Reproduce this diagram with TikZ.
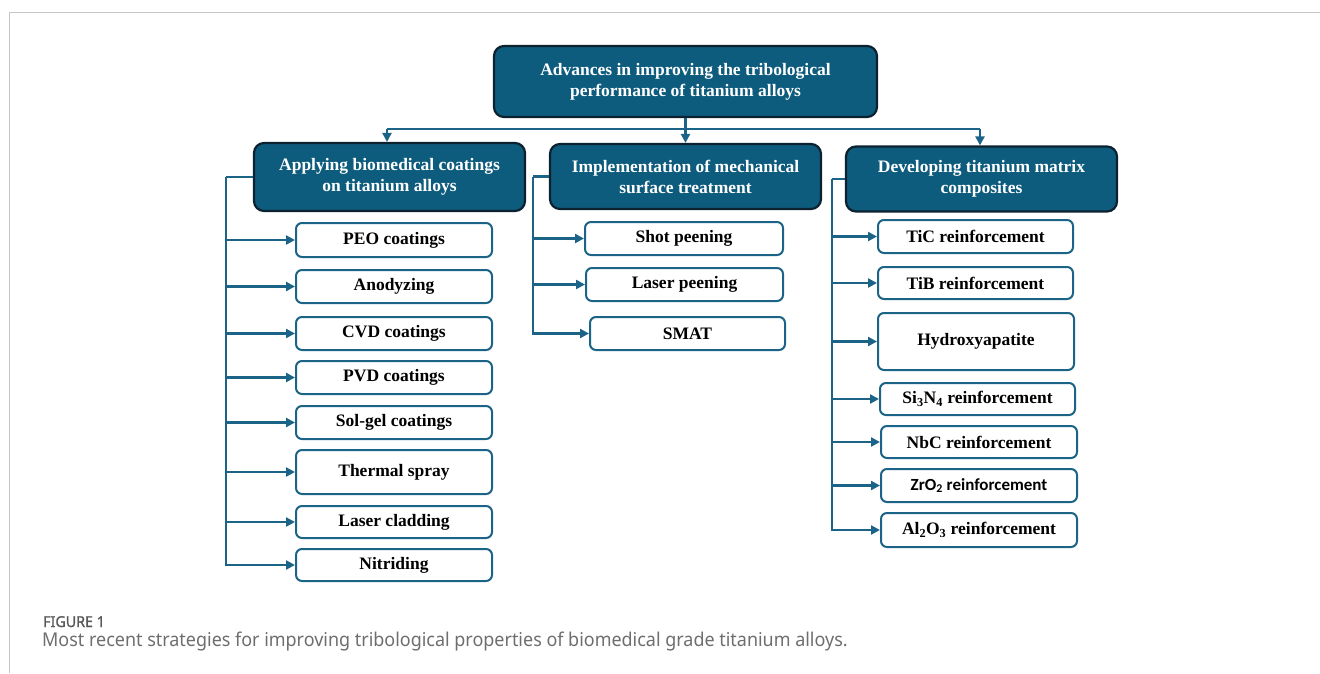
\documentclass[tikz,border=0pt]{standalone}
\usepackage{fontspec}
\setmainfont{Liberation Serif}
\newfontfamily\calfont{Carlito}
\newfontfamily\capfont[FakeStretch=0.945]{Noto Sans}
\newfontfamily\figfont[FakeStretch=0.95,FakeBold=1.3]{Noto Sans}
\usetikzlibrary{arrows.meta}
\definecolor{boxfill}{RGB}{14,92,125}
\definecolor{boxdraw}{RGB}{12,34,48}
\definecolor{linkcol}{RGB}{28,100,135}
\definecolor{capgray}{RGB}{110,110,110}

\begin{document}
\begin{tikzpicture}[x=1pt, y=-1pt, >={Triangle[length=9pt,width=9pt]},
  head/.style={draw=boxdraw, fill=boxfill, line width=2.2pt, rounded corners=10pt, text=white, align=center, inner sep=0pt, font=\fontsize{17.5}{21}\selectfont\bfseries},
  leaf/.style={draw=linkcol, fill=white, line width=2pt, rounded corners=6pt, inner sep=0pt, font=\fontsize{17.5}{21}\selectfont\bfseries},
  link/.style={draw=linkcol, line width=2.4pt}]
\useasboundingbox (0,0) rectangle (1320,673);
\draw[gray!45, line width=0.8pt] (9,673)--(9,12)--(1320,12);

% main box and the three branches
\node (top) at (685.5,81.5)[head, minimum width=383pt, minimum height=71pt]{Advances in improving the tribological\\performance of titanium alloys};
\node (coat) at (389.5,177)[head, minimum width=271pt, minimum height=68pt]{Applying biomedical coatings\\on titanium alloys};
\node (mech) at (685.5,176.5)[head, minimum width=271pt, minimum height=65pt]{Implementation of mechanical\\surface treatment};
\node (comp) at (981.5,179)[head, minimum width=271pt, minimum height=65pt]{Developing titanium matrix\\composites};

\coordinate (hl) at (387,129);
\coordinate (hr) at (980,129);
\draw[link] (hl)--(hr);
\draw[link,->] (hl)--(hl |- coat.north);
\draw[link,->] (hr)--(hr |- comp.north);
\draw[link,->] (top)--(mech);

% coatings
\node (peo) at (394,240)[leaf, minimum width=196pt, minimum height=34pt]{PEO coatings};
\node (anod) at (394,286.5)[leaf, minimum width=196pt, minimum height=33pt]{Anodyzing};
\node (cvd) at (394,333.5)[leaf, minimum width=196pt, minimum height=33pt]{CVD coatings};
\node (pvd) at (394,377.5)[leaf, minimum width=196pt, minimum height=33pt]{PVD coatings};
\node (solgel) at (394,422.5)[leaf, minimum width=196pt, minimum height=33pt]{Sol-gel coatings};
\node (spray) at (394,472)[leaf, minimum width=196pt, minimum height=44pt]{Thermal spray};
\node (clad) at (394,522)[leaf, minimum width=196pt, minimum height=32pt]{Laser cladding};
\node (nitr) at (394,565)[leaf, minimum width=196pt, minimum height=32pt]{Nitriding};

\coordinate (b1) at (226,177);
\draw[link] (coat.west)--(b1);
\foreach \n in {peo,anod,cvd,pvd,solgel,spray,clad,nitr}
{
    \draw[link,->] (b1) |- (\n.west);
}

% mechanical treatment
\node (shot) at (684,238.5)[leaf, minimum width=198pt, minimum height=33pt]{Shot peening};
\node (laser) at (684.5,284.5)[leaf, minimum width=197pt, minimum height=33pt]{Laser peening};
\node (smat) at (687.5,333.5)[leaf, minimum width=195pt, minimum height=33pt]{SMAT};

\coordinate (b2) at (533,176.5);
\draw[link] (mech.west)--(b2);
\foreach \n in {shot,laser,smat}
{
    \draw[link,->] (b2) |- (\n.west);
}

% composites
\node (tic) at (975.5,236.5)[leaf, minimum width=195pt, minimum height=33pt]{TiC reinforcement};
\node (tib) at (975.5,283)[leaf, minimum width=195pt, minimum height=32pt]{TiB reinforcement};
\node (hap) at (976,341.5)[leaf, minimum width=196pt, minimum height=57pt]{Hydroxyapatite};
\node (sin) at (977.5,399)[leaf, minimum width=195pt, minimum height=32pt]{Si\textsubscript{3}N\textsubscript{4} reinforcement};
\node (nbc) at (979,442)[leaf, minimum width=196pt, minimum height=32pt]{NbC reinforcement};
\node (zro) at (979,485.5)[leaf, minimum width=196pt, minimum height=33pt, font=\fontsize{17}{21}\calfont\bfseries]{ZrO\textsubscript{2} reinforcement};
\node (alo) at (979,530)[leaf, minimum width=196pt, minimum height=34pt]{Al\textsubscript{2}O\textsubscript{3} reinforcement};

\coordinate (b3) at (832,179);
\draw[link] (comp.west)--(b3);
\foreach \n in {tic,tib,hap,sin,nbc,zro,alo}
{
    \draw[link,->] (b3) |- (\n.west);
}

% caption
\node (fig) at (43,627)[anchor=base west, inner sep=0pt, text=capgray!80!black, font=\fontsize{15}{17}\figfont]{FIGURE 1};
\node (cap) at (42,646)[anchor=base west, inner sep=0pt, text=capgray, font=\fontsize{19}{22}\capfont]{Most recent strategies for improving tribological properties of biomedical grade titanium alloys.};

\end{tikzpicture}
\end{document}
